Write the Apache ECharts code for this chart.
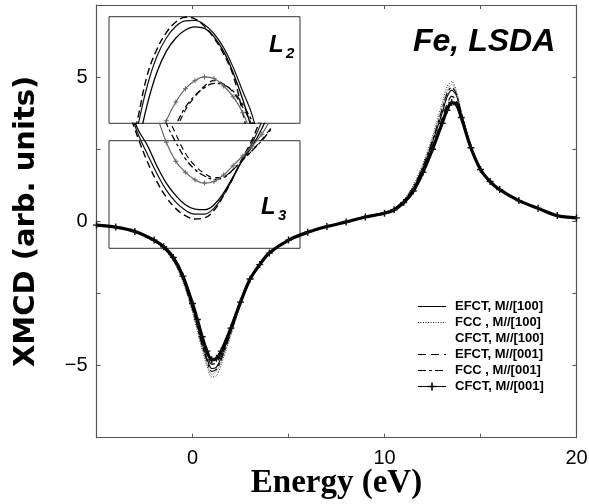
<!DOCTYPE html>
<html>
<head>
<meta charset="utf-8">
<script src="https://cdn.jsdelivr.net/npm/echarts@6/dist/echarts.min.js"></script>
<style>html,body{margin:0;padding:0;background:#fff}#c{width:589px;height:504px}</style>
</head>
<body>
<div id="c"></div>
<script>
// ---- main panel data ----
const energy = [-5,-4,-3,-2,-1.5,-1,-0.5,0,0.25,0.5,0.75,1,1.25,1.5,2,2.5,3,3.5,4,5,6,7,8,9,10,10.5,11,11.5,12,12.5,13,13.25,13.5,13.75,14,14.5,15,15.5,16,17,18,19,20];
const efct100 = [-0.13,-0.2,-0.36,-0.68,-0.92,-1.32,-2.0,-3.0,-3.6,-4.25,-4.75,-5.1,-5.05,-4.7,-3.8,-2.85,-2.02,-1.5,-1.1,-0.65,-0.38,-0.18,-0.02,0.15,0.3,0.43,0.7,1.15,1.85,2.75,3.75,4.3,4.55,4.35,3.75,2.6,1.8,1.38,1.1,0.72,0.45,0.2,0.12];
const fcc100  = [-0.13,-0.2,-0.37,-0.7,-0.95,-1.38,-2.1,-3.15,-3.8,-4.45,-5.0,-5.4,-5.35,-4.95,-3.95,-2.9,-2.05,-1.52,-1.1,-0.65,-0.38,-0.18,-0.02,0.16,0.32,0.46,0.75,1.25,2.0,2.95,4.1,4.65,4.85,4.5,3.8,2.6,1.82,1.38,1.1,0.72,0.45,0.2,0.12];
const cfct100 = [-0.13,-0.2,-0.37,-0.69,-0.94,-1.35,-2.05,-3.1,-3.7,-4.35,-4.9,-5.3,-5.2,-4.85,-3.9,-2.88,-2.04,-1.51,-1.1,-0.65,-0.38,-0.18,-0.02,0.16,0.31,0.45,0.73,1.2,1.92,2.85,3.95,4.5,4.75,4.45,3.78,2.6,1.81,1.38,1.1,0.72,0.45,0.2,0.12];
const efct001 = [-0.13,-0.2,-0.35,-0.66,-0.9,-1.28,-1.95,-2.92,-3.5,-4.12,-4.62,-4.95,-4.9,-4.6,-3.75,-2.82,-2.01,-1.5,-1.1,-0.65,-0.38,-0.18,-0.02,0.15,0.29,0.41,0.67,1.1,1.78,2.62,3.58,4.05,4.33,4.2,3.68,2.58,1.8,1.38,1.1,0.72,0.45,0.2,0.12];
const fcc001  = [-0.13,-0.2,-0.36,-0.68,-0.93,-1.33,-2.02,-3.05,-3.65,-4.3,-4.82,-5.2,-5.12,-4.78,-3.85,-2.86,-2.03,-1.5,-1.1,-0.65,-0.38,-0.18,-0.02,0.16,0.31,0.44,0.72,1.18,1.9,2.8,3.88,4.42,4.65,4.4,3.76,2.6,1.81,1.38,1.1,0.72,0.45,0.2,0.12];
const cfct001 = [-0.13,-0.2,-0.35,-0.65,-0.88,-1.25,-1.9,-2.85,-3.4,-4.0,-4.5,-4.8,-4.75,-4.5,-3.7,-2.8,-2.0,-1.5,-1.1,-0.65,-0.38,-0.18,-0.02,0.15,0.28,0.4,0.65,1.05,1.7,2.5,3.4,3.85,4.12,4.05,3.6,2.55,1.8,1.38,1.1,0.72,0.45,0.2,0.12];

// ---- L2 inset (zoom on the L2 peak) ----
const l2Energy = [12.3,12.45,12.6,12.75,12.9,13.05,13.2,13.35,13.5,13.65,13.8,13.95,14.1,14.25,14.4];
const l2_efct100 = [1.8,2.55,3.35,3.95,4.35,4.6,4.75,4.81,4.78,4.62,4.35,3.95,3.45,2.85,2.1];
const l2_fcc100  = [2.1,2.93,3.7,4.25,4.6,4.82,4.92,4.93,4.85,4.68,4.42,4.05,3.6,3.15,2.4];
const l2_cfct100 = [0.4,0.9,1.4,1.9,2.4,2.85,3.25,3.5,3.7,3.8,3.74,3.58,3.3,2.95,2.5];
const l2_efct001 = [2.3,3.08,3.9,4.38,4.7,4.9,4.99,4.96,4.82,4.6,4.3,3.9,3.2,2.4,1.6];
const l2_fcc001  = [0.5,1.0,1.5,2.0,2.5,2.96,3.3,3.52,3.67,3.75,3.72,3.6,3.35,3.03,2.6];
const l2_cfct001 = [1.0,1.5,2.0,2.55,3.05,3.4,3.65,3.8,3.87,3.84,3.7,3.5,3.2,2.75,2.2];

// ---- L3 inset (zoom on the L3 dip) ----
const l3Energy = [-0.2,-0.05,0.1,0.25,0.4,0.55,0.7,0.85,1.0,1.15,1.3,1.45,1.6,1.75,1.9,2.05];
const l3_efct100 = [-2.8,-3.3,-3.6,-3.98,-4.3,-4.53,-4.7,-4.78,-4.79,-4.7,-4.48,-4.18,-3.87,-3.62,-3.3,-2.9];
const l3_fcc100  = [-2.85,-3.38,-3.76,-4.12,-4.43,-4.65,-4.8,-4.87,-4.87,-4.76,-4.52,-4.2,-3.86,-3.56,-3.17,-2.75];
const l3_cfct100 = [-1.0,-1.5,-2.0,-2.5,-3.0,-3.4,-3.75,-3.98,-4.12,-4.2,-4.18,-4.05,-3.88,-3.7,-3.5,-3.28];
const l3_efct001 = [-2.95,-3.45,-3.9,-4.27,-4.56,-4.77,-4.9,-4.96,-4.94,-4.8,-4.53,-4.2,-3.83,-3.5,-3.05,-2.6];
const l3_fcc001  = [-1.2,-1.7,-2.2,-2.7,-3.2,-3.55,-3.85,-4.05,-4.17,-4.23,-4.2,-4.05,-3.87,-3.7,-3.52,-3.3];
const l3_cfct001 = [-1.5,-2.1,-2.6,-3.05,-3.55,-3.9,-4.1,-4.24,-4.3,-4.27,-4.15,-3.98,-3.8,-3.62,-3.4,-3.1];

const names = ['EFCT, M//[100]','FCC , M//[100]','CFCT, M//[100]','EFCT, M//[001]','FCC , M//[001]','CFCT, M//[001]'];
const xTicks = {min: -5, max: 20, interval: 5};
const yTicks = {min: -7.5, max: 7.5, interval: 2.5};

const cross = 'path://M4 0h2v4h4v2H6v4H4V6H0V4h4z';
const styles = [
  {lineStyle:{color:'#000', width:1.1, type:'solid'}, symbol:'none', itemStyle:{color:'#000'}},
  {lineStyle:{color:'#222', width:1, type:[1,1.5]}, symbol:'none', itemStyle:{color:'#000'}},
  {lineStyle:{color:'#999', width:0.8, type:'solid'}, symbol:'none', itemStyle:{color:'#999'}},
  {lineStyle:{color:'#000', width:1.2, type:[8,5]}, symbol:'none', itemStyle:{color:'#000'}},
  {lineStyle:{color:'#000', width:1.1, type:[8,3,3,3]}, symbol:'none', itemStyle:{color:'#000'}},
  {lineStyle:{color:'#000', width:3.2, type:'solid'}, symbol:cross, symbolSize:7, itemStyle:{color:'#111'}}
];
const insetStyles = [
  {lineStyle:{color:'#000', width:1.3, type:'solid'}, symbol:'none', itemStyle:{color:'#000'}},
  {lineStyle:{color:'#111', width:1.2, type:'solid'}, symbol:'none', itemStyle:{color:'#000'}},
  {lineStyle:{color:'#000', width:1.1, type:[6,4]}, symbol:'none', itemStyle:{color:'#000'}},
  {lineStyle:{color:'#000', width:1.4, type:[7,4]}, symbol:'none', itemStyle:{color:'#000'}},
  {lineStyle:{color:'#000', width:1.3, type:[7,3,3,3]}, symbol:'none', itemStyle:{color:'#000'}},
  {lineStyle:{color:'#666', width:1.2, type:'solid'}, symbol:cross, symbolSize:5, itemStyle:{color:'#666'}}
];

const mainSets = [efct100, fcc100, cfct100, efct001, fcc001, cfct001];
const l2Sets = [l2_efct100, l2_fcc100, l2_cfct100, l2_efct001, l2_fcc001, l2_cfct001];
const l3Sets = [l3_efct100, l3_fcc100, l3_cfct100, l3_efct001, l3_fcc001, l3_cfct001];

function pairs(xs, ys){ return xs.map((x,i)=>[x, ys[i]]); }

const series = [];
mainSets.forEach((ys,i)=>{
  series.push(Object.assign({type:'line', name:names[i], xAxisIndex:0, yAxisIndex:0, smooth:0.3,
    data:pairs(energy, ys), showSymbol: styles[i].symbol !== 'none', z: i===5?3:2}, styles[i]));
});
l2Sets.forEach((ys,i)=>{
  series.push(Object.assign({type:'line', name:names[i], xAxisIndex:2, yAxisIndex:2, smooth:0.4, clip:true,
    data:pairs(l2Energy, ys), showSymbol: insetStyles[i].symbol !== 'none'}, insetStyles[i]));
});
l3Sets.forEach((ys,i)=>{
  series.push(Object.assign({type:'line', name:names[i], xAxisIndex:3, yAxisIndex:3, smooth:0.4, clip:true,
    data:pairs(l3Energy, ys), showSymbol: insetStyles[i].symbol !== 'none'}, insetStyles[i]));
});

const axisCol = '#555';
const lbl = {color:'#000', fontFamily:'Liberation Sans, Arial, sans-serif', fontSize:20};
const hidden = {show:false, type:'value', min:0, max:1};
const aLine = {onZero:false, lineStyle:{color:axisCol, width:1.2}};
const aTick = {inside:true, length:4, lineStyle:{color:axisCol}};

const legendData = names.map((n,i)=> {
  if (i===2) return {name:n, itemStyle:{opacity:0}, lineStyle:{opacity:0}};
  if (i===5) return {name:n, lineStyle:{width:1}, itemStyle:{color:'#000'}};
  return {name:n, itemStyle:{opacity:0}, lineStyle:{width:1}};
});

const chart = echarts.init(document.getElementById('c'), null, {renderer:'canvas'});
chart.setOption({
  animation:false,
  backgroundColor:'#fff',
  grid:[
    {left:96.5, right:12.5, top:5, bottom:66.3, show:false, containLabel:false, outerBoundsMode:'none'},
    {left:109, top:16.7, width:191, height:106.6, show:true, borderColor:'#333', borderWidth:1, backgroundColor:'transparent', outerBoundsMode:'none'},
    {left:109, top:123.3, width:191, height:125, show:false, outerBoundsMode:'none'},
    {left:109, top:140.7, width:191, height:107.6, show:true, borderColor:'#333', borderWidth:1, backgroundColor:'transparent', outerBoundsMode:'none'}
  ],
  xAxis:[
    Object.assign({type:'value', gridIndex:0, position:'bottom',
      name:'Energy (eV)', nameLocation:'middle', nameGap:29, nameMoveOverlap:false,
      nameTextStyle:{fontFamily:'Liberation Serif, Times New Roman, serif', fontWeight:'bold', fontSize:33, color:'#000'},
      axisLine:aLine, axisTick:aTick, splitLine:{show:false},
      axisLabel:Object.assign({margin:11, formatter:v=> (v%10===0 ? String(v) : '')}, lbl)}, xTicks),
    Object.assign({type:'value', gridIndex:0, position:'top',
      axisLine:aLine, axisTick:aTick, splitLine:{show:false}, axisLabel:{show:false}}, xTicks),
    {type:'value', gridIndex:1, show:false, min:12, max:15},
    {type:'value', gridIndex:2, show:false, min:-0.5, max:2.5},
    Object.assign({gridIndex:3}, hidden)
  ],
  yAxis:[
    Object.assign({type:'value', gridIndex:0, position:'left',
      name:'XMCD (arb. units)', nameLocation:'middle', nameGap:56, nameMoveOverlap:false,
      nameTextStyle:{fontFamily:'DejaVu Sans, sans-serif', fontWeight:'bold', fontSize:29, color:'#000'},
      axisLine:aLine, axisTick:aTick, splitLine:{show:false},
      axisLabel:Object.assign({margin:9, formatter:v=> (v%5===0 ? String(v).replace('-','\u2212') : '')}, lbl)}, yTicks),
    Object.assign({type:'value', gridIndex:0, position:'right',
      axisLine:aLine, axisTick:aTick, splitLine:{show:false}, axisLabel:{show:false}}, yTicks),
    {type:'value', gridIndex:1, show:false, min:3, max:5},
    {type:'value', gridIndex:2, show:false, min:-5.5, max:-3.2},
    Object.assign({gridIndex:3}, hidden)
  ],
  legend:{
    orient:'vertical', left:412, top:295, itemWidth:28, itemHeight:10, itemGap:3,
    textStyle:{fontFamily:'Liberation Sans, Arial, sans-serif', fontWeight:'bold', fontSize:13, color:'#000', padding:[0,0,0,4], lineHeight:13},
    data: legendData,
    selectedMode:false
  },
  title:{
    text:'Fe, LSDA', left:408, top:21,
    textStyle:{fontFamily:'Liberation Sans, Arial, sans-serif', fontWeight:'bold', fontStyle:'italic', fontSize:32, color:'#000'}
  },
  graphic:[
    {type:'text', left:269, top:33, style:{text:'L', font:'italic bold 24px "Liberation Sans", Arial, sans-serif', fill:'#000'}},
    {type:'text', left:286, top:46, style:{text:'2', font:'italic bold 15px "Liberation Sans", Arial, sans-serif', fill:'#000'}},
    {type:'text', left:261, top:195, style:{text:'L', font:'italic bold 24px "Liberation Sans", Arial, sans-serif', fill:'#000'}},
    {type:'text', left:278, top:208, style:{text:'3', font:'italic bold 15px "Liberation Sans", Arial, sans-serif', fill:'#000'}}
  ],
  series: series
});
</script>
</body>
</html>
